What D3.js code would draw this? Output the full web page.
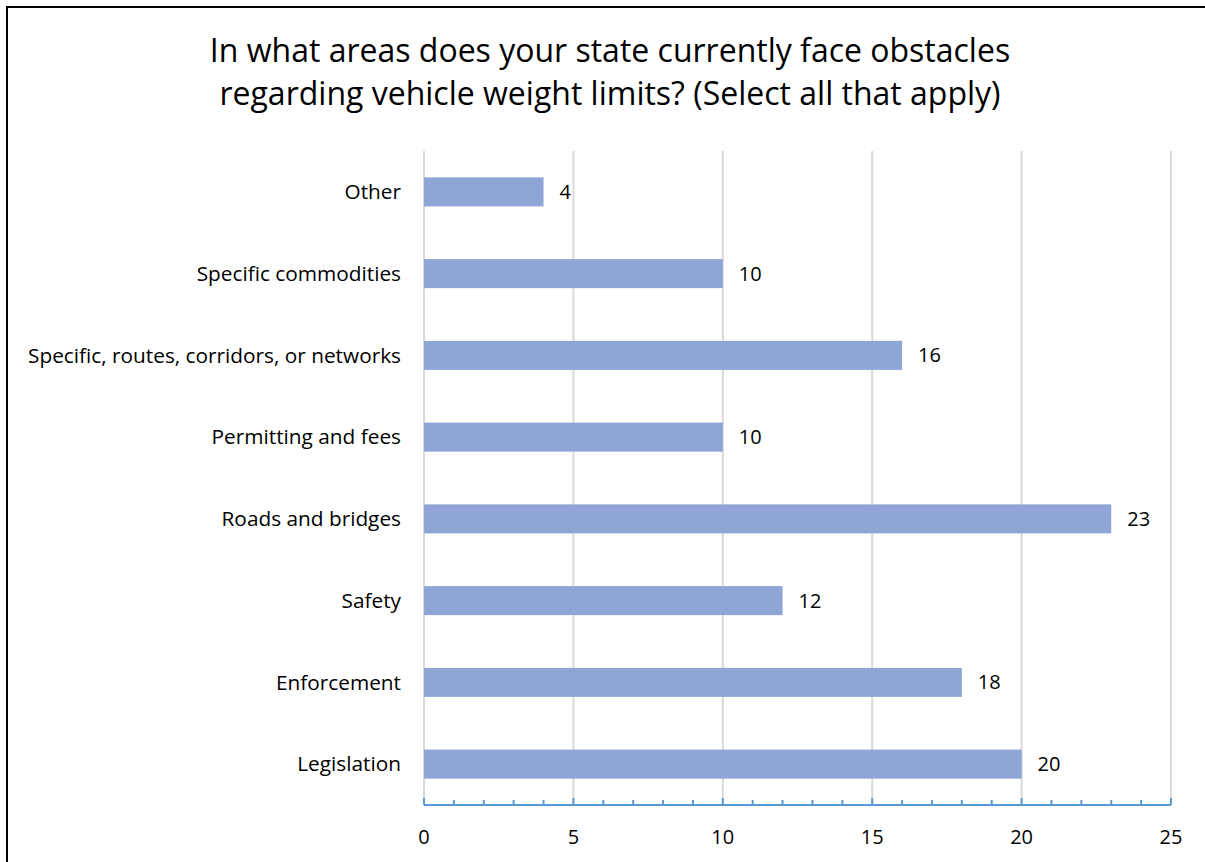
<!DOCTYPE html>
<html><head><meta charset="utf-8">
<script src="https://cdn.jsdelivr.net/npm/d3@7"></script>
<style>body{margin:0;background:#fff;} svg{display:block;font-family:"Open Sans",sans-serif;}</style>
</head><body>
<svg id="c" width="1205" height="862"></svg>
<script>
const categories = ["Other","Specific commodities","Specific, routes, corridors, or networks","Permitting and fees","Roads and bridges","Safety","Enforcement","Legislation"];
const values = [4,10,16,10,23,12,18,20];
const xTicks = [0,5,10,15,20,25];
const titleLines = ["In what areas does your state currently face obstacles","regarding vehicle weight limits? (Select all that apply)"];

const svg = d3.select("#c");
svg.append("rect").attr("x",7).attr("y",7).attr("width",1220).attr("height",900)
  .attr("fill","none").attr("stroke","#000").attr("stroke-width",2);

const pLeft=424, pRight=1171, pTop=151, pBottom=805;
const x = d3.scaleLinear().domain([0,25]).range([pLeft,pRight]);
const y = d3.scaleBand().domain(categories).range([pTop,pBottom]).paddingInner(0.645).paddingOuter(0.3225);

// gridlines
svg.append("g").selectAll("line").data(xTicks).join("line")
  .attr("x1",d=>x(d)).attr("x2",d=>x(d)).attr("y1",pTop).attr("y2",pBottom)
  .attr("stroke","#d9d9d9").attr("stroke-width",2);

// bars
svg.append("g").selectAll("rect").data(values).join("rect")
  .attr("x",x(0)).attr("y",(d,i)=>y(categories[i]))
  .attr("width",d=>x(d)-x(0)).attr("height",y.bandwidth())
  .attr("fill","#8FA5D5");

// value labels
svg.append("g").selectAll("text").data(values).join("text")
  .attr("x",d=>x(d)+16).attr("y",(d,i)=>y(categories[i])+y.bandwidth()/2)
  .attr("dy","0.35em").attr("font-size",20).attr("fill","#000").text(d=>d);

// category labels
svg.append("g").selectAll("text").data(categories).join("text")
  .attr("x",401).attr("y",d=>y(d)+y.bandwidth()/2).attr("dy","0.35em")
  .attr("text-anchor","end").attr("font-size",20.8).attr("fill","#000").text(d=>d);

// x axis
const minor = d3.range(0,26,1);
const ax = svg.append("g").attr("transform",`translate(0,${pBottom})`);
ax.append("line").attr("x1",x(0)).attr("x2",x(25)).attr("stroke","#5B9BD5").attr("stroke-width",2);
ax.selectAll("line.t").data(minor).join("line").attr("class","t")
  .attr("x1",d=>x(d)).attr("x2",d=>x(d)).attr("y1",0).attr("y2",d=>d%5===0?-7:-5)
  .attr("stroke","#5B9BD5").attr("stroke-width",2);
ax.selectAll("text").data(xTicks).join("text")
  .attr("x",d=>x(d)).attr("y",39).attr("text-anchor","middle")
  .attr("font-size",20).attr("fill","#000").text(d=>d);

// title
svg.append("g").selectAll("text").data(titleLines).join("text")
  .attr("x",610).attr("y",(d,i)=>62+i*43).attr("text-anchor","middle")
  .attr("font-size",32).attr("fill","#000").text(d=>d);
</script>
</body></html>
